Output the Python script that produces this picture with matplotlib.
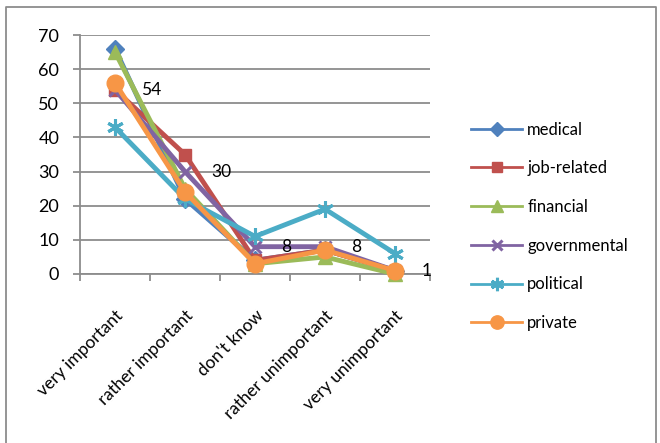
import matplotlib
matplotlib.use("Agg")
import matplotlib.pyplot as plt
from matplotlib.lines import Line2D
from matplotlib.ticker import FixedLocator, NullFormatter

plt.rcParams['font.family'] = ['Lato', 'DejaVu Sans']

categories = ["very important", "rather important", "don't know",
              "rather unimportant", "very unimportant"]
medical = [66, 22, 4, 7, 1]
job_related = [54, 35, 4, 7, 1]
financial = [65, 25, 3, 5, 0]
governmental = [54, 30, 8, 8, 1]
political = [43, 22, 11, 19, 6]
private = [56, 24, 3, 7, 1]

series = [
    ("medical", medical, "#4F81BD", "D", 9),
    ("job-related", job_related, "#C0504D", "s", 9),
    ("financial", financial, "#9BBB59", "^", 10),
    ("governmental", governmental, "#8064A2", "x", 9),
    ("political", political, "#4BACC6", (6, 2, 0), 12),
    ("private", private, "#F79646", "o", 12),
]

W, H = 660, 443
fig = plt.figure(figsize=(6.6, 4.43), dpi=100)
ax = fig.add_axes([80 / W, (H - 274) / H, 350 / W, 239 / H])

x = list(range(len(categories)))
handles = []
for name, vals, color, marker, ms in series:
    mew = 2.2 if marker in ("x", (6, 2, 0)) else 1
    ax.plot(x, vals, color=color, lw=3.5, marker=marker, ms=ms,
            mew=mew, mec=color, mfc=color, solid_joinstyle="miter",
            clip_on=False, zorder=3)
    handles.append(Line2D([], [], color=color, lw=2, marker=marker,
                          ms=ms * 0.8, mew=mew, mec=color, mfc=color))

# value labels on the governmental series
for xi, v in zip(x, governmental):
    ax.annotate(str(v), (xi, v), xytext=(19, 0), textcoords="offset points",
                va="center", ha="left", fontsize=12.5, color="black", zorder=5)

ax.set_xlim(-0.5, len(categories) - 0.5)
ax.set_ylim(0, 70)
ax.set_yticks(range(0, 71, 10))
ax.yaxis.grid(True, color="#8c8c8c", lw=1.3)
ax.set_axisbelow(True)
ax.tick_params(axis="y", length=5, width=1.3, color="#8c8c8c", pad=10,
               labelsize=13)

ax.set_xticks(x)
ax.set_xticklabels(categories, rotation=45, ha="right",
                   rotation_mode="anchor", fontsize=12.5)
ax.tick_params(axis="x", which="major", length=0, pad=24)
ax.xaxis.set_minor_locator(FixedLocator([i - 0.5 for i in range(len(categories) + 1)]))
ax.xaxis.set_minor_formatter(NullFormatter())
ax.tick_params(axis="x", which="minor", length=5, width=1.3, color="#8c8c8c")

for side in ("top", "right"):
    ax.spines[side].set_visible(False)
for side in ("left", "bottom"):
    ax.spines[side].set_color("#8c8c8c")
    ax.spines[side].set_linewidth(1.3)

fig.legend(handles, [s[0] for s in series], loc="upper left",
           bbox_to_anchor=(464 / W, 1 - 115 / H), frameon=False,
           fontsize=12, handlelength=3.1, handletextpad=0.3,
           labelspacing=1.36, borderaxespad=0)

# outer chart border (left, top, right)
fig.add_artist(Line2D([6 / W, 6 / W, 656 / W, 656 / W],
                      [0, 1 - 7 / H, 1 - 7 / H, 0],
                      transform=fig.transFigure, color="#8c8c8c", lw=1.3))

fig.savefig("out.png", dpi=100)
